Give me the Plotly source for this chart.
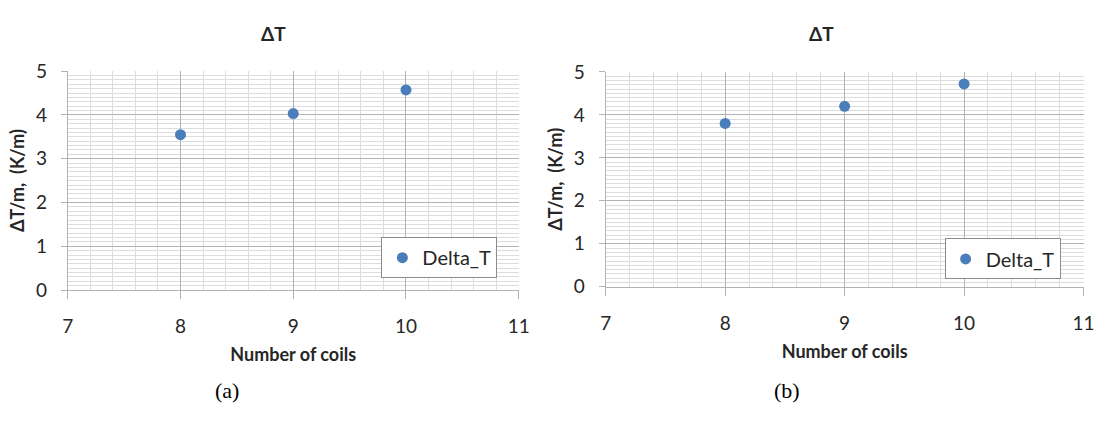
import plotly.graph_objects as go

# ---- data ----
coils = [8, 9, 10]
delta_a = [3.55, 4.03, 4.57]
delta_b = [3.80, 4.20, 4.72]
series_name = "Delta_T"
panel_title = "ΔT"
x_title = "Number of coils"
y_title = "ΔT/m,  (K/m)"
captions = ["(a)", "(b)"]
x_ticks = [7, 8, 9, 10, 11]
y_ticks = [0, 1, 2, 3, 4, 5]

W, H = 1112, 426
FONT = "Lato"
BLUE = "#4a7ebb"
MAJOR = "#b3b3b3"
MINOR = "#dcdcdc"
TEXT = "#262626"

def px_x(p):
    return p / W

def px_y(p):
    return (H - p) / H

fig = go.Figure()
fig.add_trace(go.Scatter(x=coils, y=delta_a, mode="markers", name=series_name,
                         marker=dict(size=11, color=BLUE), xaxis="x", yaxis="y",
                         legend="legend"))
fig.add_trace(go.Scatter(x=coils, y=delta_b, mode="markers", name=series_name,
                         marker=dict(size=11, color=BLUE), xaxis="x2", yaxis="y2",
                         legend="legend2"))

def xaxis(domain, anchor):
    return dict(domain=domain, anchor=anchor, range=[7, 11], tickvals=x_ticks,
                showgrid=True, gridcolor=MAJOR, gridwidth=1,
                minor=dict(dtick=0.2, tick0=7, showgrid=True, gridcolor=MINOR, gridwidth=1),
                showline=True, linecolor=MAJOR, linewidth=1,
                ticks="outside", ticklen=8, tickcolor=MAJOR,
                ticklabelstandoff=11,
                tickfont=dict(family=FONT, size=19, color=TEXT),
                title=dict(text=x_title, font=dict(family=FONT, size=18, color=TEXT, weight="bold"),
                           standoff=12),
                zeroline=False, fixedrange=True)

def yaxis(domain, anchor):
    return dict(domain=domain, anchor=anchor, range=[0, 5], tickvals=y_ticks,
                showgrid=True, gridcolor=MAJOR, gridwidth=1,
                minor=dict(dtick=0.1, tick0=0, showgrid=True, gridcolor=MINOR, gridwidth=1),
                showline=True, linecolor=MAJOR, linewidth=1,
                ticks="outside", ticklen=6, tickcolor=MAJOR,
                ticklabelstandoff=10,
                tickfont=dict(family=FONT, size=19, color=TEXT),
                title=dict(text=y_title, font=dict(family=FONT, size=18, color=TEXT, weight="bold"),
                           standoff=6),
                zeroline=False, fixedrange=True)

legend_style = dict(xanchor="right", yanchor="top", bgcolor="white",
                    bordercolor="#8c8c8c", borderwidth=1,
                    font=dict(family=FONT, size=20, color=TEXT), itemwidth=30)

fig.update_layout(
    width=W, height=H,
    margin=dict(l=0, r=0, t=0, b=0),
    paper_bgcolor="white", plot_bgcolor="white",
    xaxis=xaxis([px_x(62.7), px_x(520.7)], "y"),
    yaxis=yaxis([px_y(294), px_y(62.5)], "x"),
    xaxis2=xaxis([px_x(609), px_x(1094.3)], "y2"),
    yaxis2=yaxis([px_y(290.5), px_y(63.3)], "x2"),
    legend=dict(x=px_x(499), y=px_y(238), **legend_style),
    legend2=dict(x=px_x(1071), y=px_y(239.3), **legend_style),
    showlegend=True,
)

def note(text, x, y, family, size, weight="normal", color=TEXT):
    return dict(text=text, x=px_x(x), y=px_y(y), xref="paper", yref="paper",
                xanchor="center", yanchor="middle", showarrow=False,
                font=dict(family=family, size=size, color=color, weight=weight))

fig.update_layout(annotations=[
    note(panel_title, 272, 23, FONT, 19, "bold"),
    note(panel_title, 828, 23, FONT, 19, "bold"),
    note(captions[0], 224, 400, "Liberation Serif", 22, color="black"),
    note(captions[1], 793, 400, "Liberation Serif", 22, color="black"),
])

fig.write_html("out.html", config={"displayModeBar": False})
